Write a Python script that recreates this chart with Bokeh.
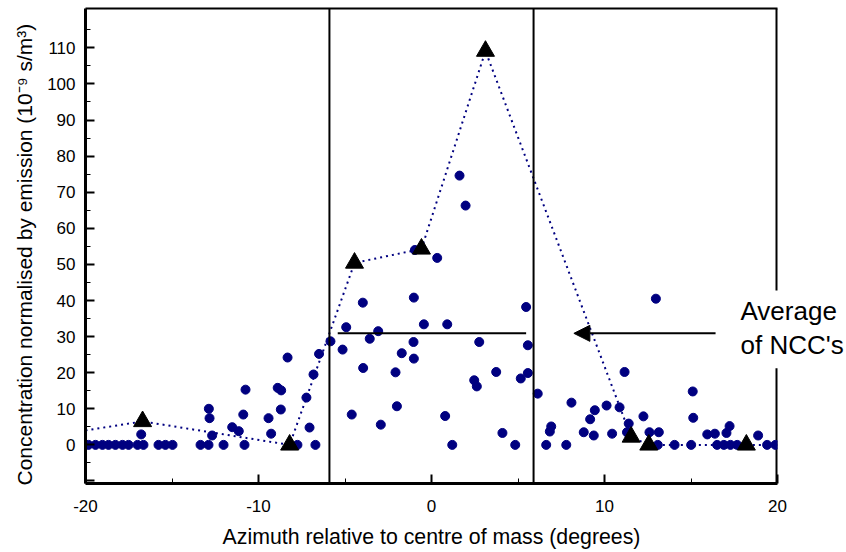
from bokeh.plotting import figure
from bokeh.models import (Range1d, FixedTicker, Span, Arrow, NormalHead,
                          Title, LinearAxis)
from bokeh.embed import file_html
from bokeh.resources import INLINE

# ---------------- data ----------------
zero_x = [-19.83, -19.42, -19.02, -18.67, -18.27, -17.86, -17.51, -16.99, -16.65,
          -15.78, -15.38, -14.97, -13.35, -12.89, -12.02, -10.81, -7.75, -6.71,
          1.20, 4.84, 6.63, 7.79, 13.08, 14.05, 15.01, 16.51, 16.90, 17.28, 17.67,
          19.40, 19.88]
zero_y = [0.0] * len(zero_x)

pos_x = [-16.78, -10.75, -12.87, -12.83, -12.68, -11.52, -11.14, -10.88, -8.89, -8.69,
         -9.42, -8.71, -9.27, -7.23, -7.05, -8.32, -6.82, -6.50,
         1.62, 1.97, -0.96, 0.33, -3.97, -1.02, 5.47, -4.93, -0.44, 0.91, -3.08, -3.57,
         -5.84, -5.14, -1.04, 2.76, 5.57, -1.72, -1.02, -3.95, -2.08, 3.74, 5.57, 5.16,
         2.47, 2.62, 6.14, -2.00, -4.61, 0.79, -2.93, 4.10,
         12.97, 11.16, 15.10, 8.09, 9.44, 10.12, 10.87, 9.17, 12.25, 15.13, 6.92, 6.84,
         8.80, 9.38, 10.44, 11.40, 11.30, 12.60, 13.14, 15.94, 16.38, 17.05, 17.23, 18.88]
pos_y = [2.9, 15.3, 10.0, 7.4, 2.6, 4.9, 3.8, 8.4, 15.8, 15.1,
         7.4, 9.8, 3.1, 13.1, 4.8, 24.2, 19.5, 25.2,
         74.6, 66.3, 54.0, 51.8, 39.4, 40.8, 38.2, 32.6, 33.4, 33.4, 31.5, 29.4,
         28.7, 26.4, 28.5, 28.5, 27.6, 25.4, 23.9, 21.3, 20.1, 20.2, 19.9, 18.4,
         17.9, 16.2, 14.2, 10.7, 8.4, 8.0, 5.6, 3.3,
         40.5, 20.2, 14.8, 11.7, 9.6, 10.9, 10.4, 7.1, 7.9, 7.5, 5.1, 3.7,
         3.5, 2.6, 3.1, 5.9, 3.5, 3.5, 3.5, 2.9, 3.1, 3.3, 5.2, 2.6]

dot_x = zero_x + pos_x
dot_y = zero_y + pos_y

# binned averages (triangles)
tri_x = [-16.7, -8.2, -4.45, -0.58, 3.12, 11.54, 12.56, 18.2]
tri_y = [6.5, 0.0, 50.4, 54.3, 109.1, 2.2, 0.0, 0.0]
# dotted line continues to the plot edges
edge_x = [-20.0, 20.0]
edge_y = [4.0, 0.0]

# sector boundaries and average of NCC's
sector_bounds = [-5.9, 5.9]
ncc_x = [-5.42, 5.47]
ncc_avg = 30.9
arrow_x = [16.42, 8.23]
note_lines = ["Average", "of NCC's"]
note_y = [37.0, 27.6]
note_gap = (21.2, 42.8)   # the box's right edge is interrupted behind the note

x_ticks = [-20, -10, 0, 10, 20]
x_minor = [-15, -5, 5, 15]
y_ticks = [-10, 0, 10, 20, 30, 40, 50, 60, 70, 80, 90, 100, 110]
y_minor = [-5, 5, 15, 25, 35, 45, 55, 65, 75, 85, 95, 105, 115]

x_title = "Azimuth relative to centre of mass (degrees)"
y_title = "Concentration normalised by emission (10\u207b\u2079 s/m\u00b3)"

x_lim = (-20.0, 20.0)
y_lim = (-10.7, 120.9)

# ---------------- figure ----------------
FONT = "Liberation Sans"
NAVY = "#000080"

p = figure(width=846, height=552, output_backend="svg", toolbar_location=None,
           x_range=Range1d(*x_lim), y_range=Range1d(*y_lim),
           min_border_left=85, min_border_right=69, min_border_top=8,
           min_border_bottom=69)

p.grid.visible = False
p.background_fill_color = "white"
p.border_fill_color = "white"
p.outline_line_color = None

p.xaxis.ticker = FixedTicker(ticks=x_ticks, minor_ticks=x_minor)
p.yaxis.ticker = FixedTicker(ticks=y_ticks, minor_ticks=y_minor)
p.xaxis.major_label_overrides = {t: str(t) for t in x_ticks}
p.yaxis.major_label_overrides = {-10: ""}
for ax in (p.xaxis[0], p.yaxis[0]):
    ax.axis_line_color = "black"
    ax.axis_line_width = 3
    ax.major_tick_in = 9
    ax.major_tick_out = 0
    ax.minor_tick_in = 5
    ax.minor_tick_out = 0
    ax.major_tick_line_width = 2
    ax.minor_tick_line_width = 1
    ax.major_label_text_font = FONT
    ax.major_label_text_font_size = "17px"
    ax.major_label_text_color = "black"
p.xaxis.major_label_standoff = 16
p.yaxis.major_label_standoff = 10

p.xaxis.axis_label = x_title
p.xaxis.axis_label_text_font = FONT
p.xaxis.axis_label_text_font_size = "21.3px"
p.xaxis.axis_label_text_font_style = "normal"
p.xaxis.axis_label_text_color = "black"
p.xaxis.axis_label_standoff = 10

# y title as a side-panel title, aligned from the bottom of the box
p.add_layout(Title(text=y_title, align="left", offset=-2, text_font=FONT,
                   text_font_size="21px", text_font_style="normal",
                   text_color="black", standoff=18), "left")

# top edge of the box
top_axis = LinearAxis(ticker=FixedTicker(ticks=[]), axis_line_width=2,
                      axis_line_color="black", major_tick_line_color=None,
                      minor_tick_line_color=None, major_label_text_font_size="0px")
p.add_layout(top_axis, "above")

# note text, carried by a tick-less axis on the right so it is not clipped
note_axis = LinearAxis(ticker=FixedTicker(ticks=note_y),
                       major_label_overrides=dict(zip(note_y, note_lines)),
                       axis_line_color=None, major_tick_line_color=None,
                       minor_tick_line_color=None, major_label_standoff=-43,
                       major_label_text_font=FONT, major_label_text_font_size="26px",
                       major_label_text_color="black")
p.add_layout(note_axis, "right")

# right edge of the box, interrupted behind the note
p.segment(x0=[x_lim[1], x_lim[1]], y0=[y_lim[0], note_gap[1]],
          x1=[x_lim[1], x_lim[1]], y1=[note_gap[0], y_lim[1]],
          line_color="black", line_width=4)

for b in sector_bounds:
    p.add_layout(Span(location=b, dimension="height", line_color="black", line_width=2))

p.scatter(dot_x, dot_y, marker="circle", size=9, fill_color=NAVY, line_color=NAVY)

line_x = [edge_x[0]] + tri_x + [edge_x[1]]
line_y = [edge_y[0]] + tri_y + [edge_y[1]]
p.line(line_x, line_y, line_color=NAVY, line_width=2, line_dash="2 4")
p.scatter(tri_x, tri_y, marker="triangle", size=18, fill_color="black", line_color="black")

p.segment(x0=[ncc_x[0]], y0=[ncc_avg], x1=[ncc_x[1]], y1=[ncc_avg],
          line_color="black", line_width=2)

p.add_layout(Arrow(end=NormalHead(size=16, fill_color="black", line_color="black"),
                   x_start=arrow_x[0], y_start=ncc_avg, x_end=arrow_x[1], y_end=ncc_avg,
                   line_color="black", line_width=2))

open("out.html", "w").write(file_html(p, INLINE))
